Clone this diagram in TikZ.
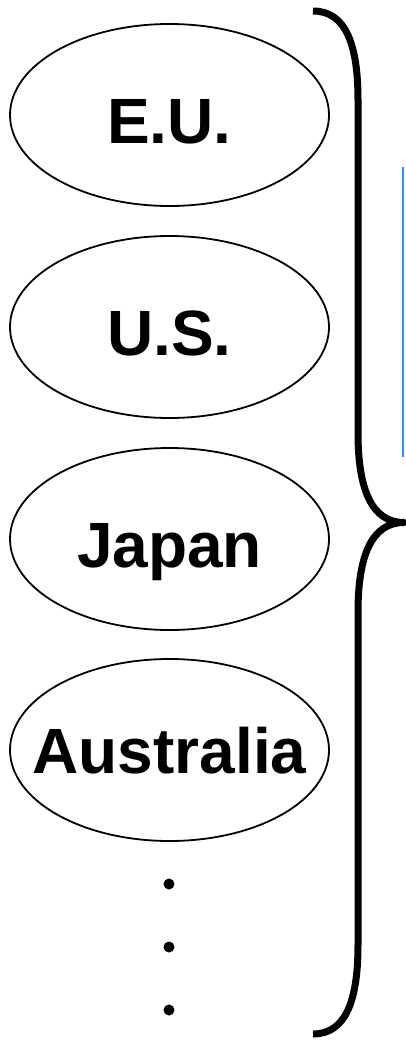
\documentclass[tikz,border=0pt]{standalone}
\usepackage{fontspec}
\setmainfont{Liberation Sans}
\usetikzlibrary{shapes.geometric}
\definecolor{lineblue}{RGB}{45,145,255}
\tikzset{
  country/.style={draw=black, line width=1.8pt, ellipse, minimum width=319pt, minimum height=182pt,
    inner sep=0pt},
  lbltext/.style={font=\fontsize{64}{70}\selectfont\bfseries, inner sep=0pt, text height=56pt, text depth=0pt},
  dotmark/.style={circle, fill=black, minimum size=11pt, inner sep=0pt},
  bracestroke/.style={line width=7pt, line cap=butt, line join=round},
}
\begin{document}
\begin{tikzpicture}[x=1pt,y=-1pt]
\useasboundingbox (0,0) rectangle (405,1041);
\node[country, label={[lbltext]center:E.U.}] (eu) at (169.5,115) {};
\node[country, label={[lbltext]center:U.S.}] (us) at (169.5,327) {};
\node[country, label={[lbltext]center:Japan}] (jp) at (169.5,539) {};
\node[country, label={[lbltext, text height=46pt]center:Australia}] (au) at (169.5,750) {};
\node[dotmark] (d1) at (169,884) {};
\node[dotmark] (d2) at (169,947) {};
\node[dotmark] (d3) at (169,1010) {};
\draw[bracestroke] (313,11) .. controls (346,11) and (358,45) .. (358,100)
  -- (358,433) .. controls (358,490) and (372,522.5) .. (404,522.5)
  .. controls (372,522.5) and (358,555) .. (358,612)
  -- (358,945) .. controls (358,1000) and (346,1034) .. (313,1034);
\draw[lineblue, line width=2pt] (403.2,167) -- (403.2,457);
\end{tikzpicture}
\end{document}
